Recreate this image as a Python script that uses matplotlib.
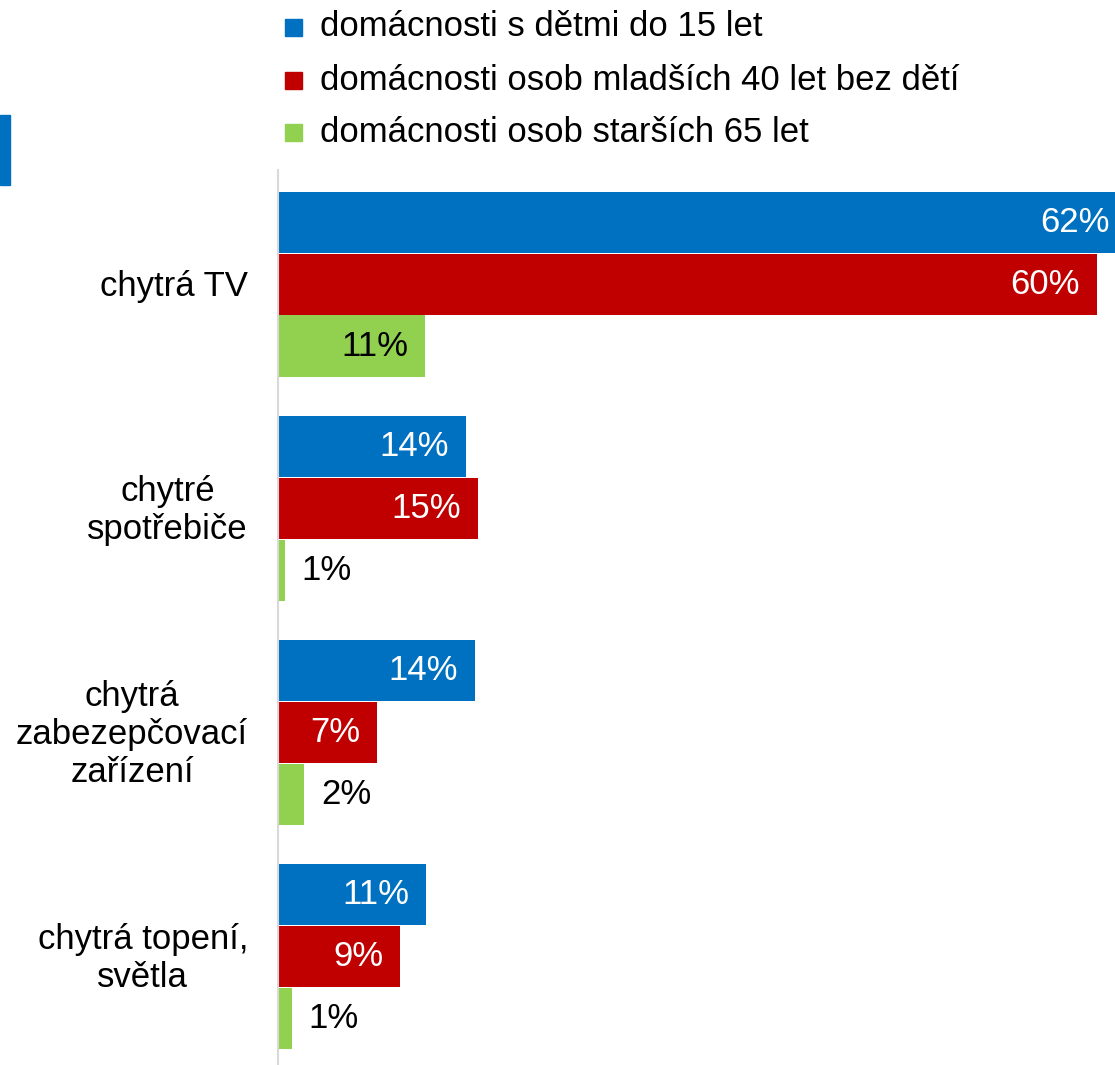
import matplotlib
matplotlib.use("Agg")
import matplotlib.pyplot as plt
from matplotlib.patches import Rectangle
import numpy as np

plt.rcParams['font.family'] = ['Liberation Sans', 'DejaVu Sans']

categories = ["chytrá TV", "chytré\nspotřebiče", "chytrá\nzabezepčovací\nzařízení", "chytrá topení,\nsvětla"]
series_names = ["domácnosti s dětmi do 15 let",
                "domácnosti osob mladších 40 let bez dětí",
                "domácnosti osob starších 65 let"]
values_children = [62.4, 13.8, 14.5, 10.9]
values_young = [60.2, 14.7, 7.3, 9.0]
values_senior = [10.8, 0.5, 1.9, 1.0]
labels_children = ["62%", "14%", "14%", "11%"]
labels_young = ["60%", "15%", "7%", "9%"]
labels_senior = ["11%", "1%", "2%", "1%"]

colors = ["#0070C0", "#C00000", "#92D050"]
text_colors = ["white", "white", "black"]

W, H = 1115, 1065
fig = plt.figure(figsize=(W / 100, H / 100), dpi=100)
ax_left, ax_right, ax_top, ax_bot = 278, 1115, 170, 1065
ax = fig.add_axes([ax_left / W, 1 - ax_bot / H, (ax_right - ax_left) / W, (ax_bot - ax_top) / H])

px_per_unit = 13.6
ax.set_xlim(0, (ax_right - ax_left) / px_per_unit)
ax.set_ylim(3.485, -0.51)

bar_h = 0.276
y = np.arange(len(categories))
all_vals = [values_children, values_young, values_senior]
all_labels = [labels_children, labels_young, labels_senior]
fs = 25
for i, (vals, labs) in enumerate(zip(all_vals, all_labels)):
    ys = y + (i - 1) * bar_h
    ax.barh(ys, vals, height=bar_h * 0.99, color=colors[i], edgecolor='none')
    for yy, v, lab in zip(ys, vals, labs):
        bar_px = v * px_per_unit
        if bar_px > 60:
            ax.annotate(lab, (v, yy), xytext=(-17 * 0.72, 0), textcoords='offset points',
                        ha='right', va='center', fontsize=fs, color=text_colors[i],
                        annotation_clip=False)
        else:
            ax.annotate(lab, (v, yy), xytext=(17 * 0.72, 0), textcoords='offset points',
                        ha='left', va='center', fontsize=fs, color='black',
                        annotation_clip=False)

for yy, c in zip(y, categories):
    ax.text(-30 / px_per_unit, yy + 0.01, c, ha='right', va='center', multialignment='center',
            fontsize=fs, color='black', linespacing=1.2)

for s in ['top', 'right', 'bottom']:
    ax.spines[s].set_visible(False)
ax.spines['left'].set_color('#d9d9d9')
ax.spines['left'].set_linewidth(1.5)
ax.set_xticks([])
ax.set_yticks([])

# legend
leg_y = [27, 80, 132]
for name, c, ly in zip(series_names, colors, leg_y):
    fig.patches.append(Rectangle((285 / W, 1 - (ly + 9) / H), 17 / W, 17 / H,
                                 transform=fig.transFigure, color=c, figure=fig))
    fig.text(320 / W, 1 - ly / H, name, ha='left', va='center', fontsize=fs, color='black')

# decorative blue mark at left
fig.patches.append(Rectangle((0, 1 - 185 / H), 10 / W, 70 / H,
                             transform=fig.transFigure, color="#0070C0", figure=fig))

fig.savefig("out.png", dpi=100)
